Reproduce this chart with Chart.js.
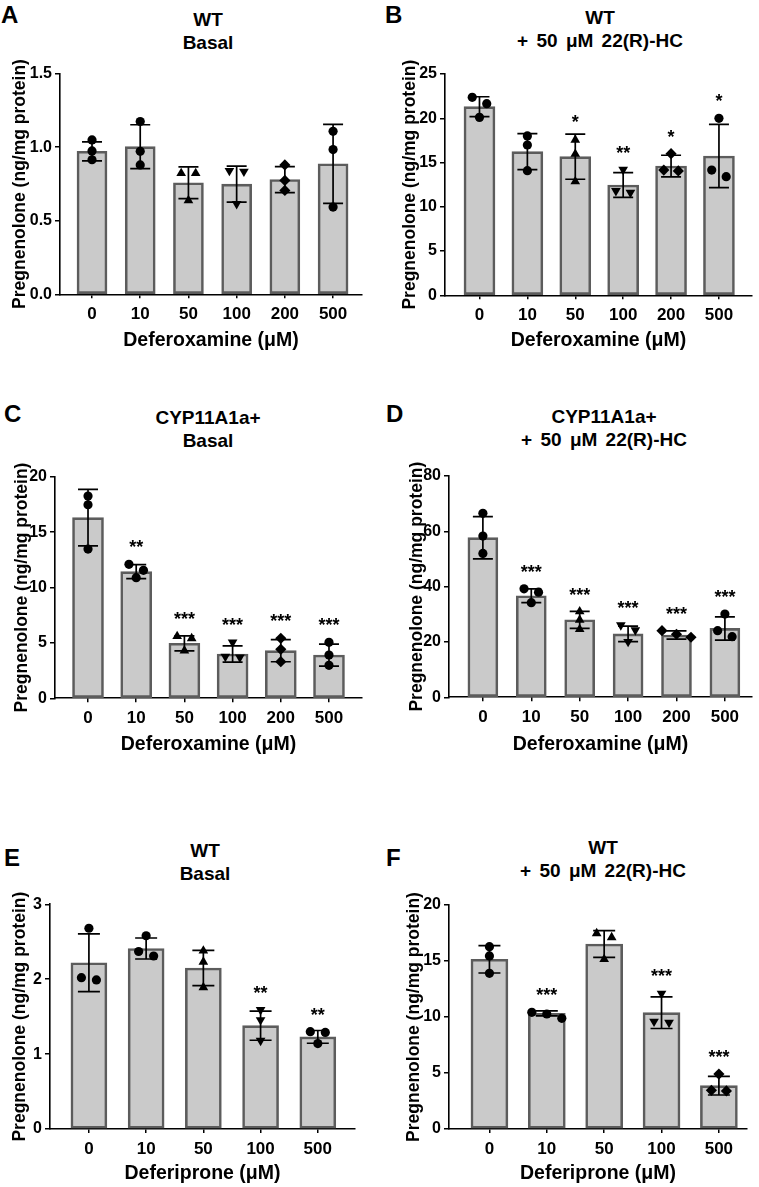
<!DOCTYPE html>
<html><head><meta charset="utf-8">
<script src="https://cdn.jsdelivr.net/npm/chart.js@4.4.1/dist/chart.umd.min.js"></script>
<style>
html,body{margin:0;padding:0;background:#fff;}
body{width:759px;height:1187px;position:relative;overflow:hidden;font-family:"Liberation Sans",Arial,Helvetica,sans-serif;color:#000;}
canvas{position:absolute;}
.letter{position:absolute;font-weight:bold;font-size:24px;line-height:24px;}
.title{position:absolute;font-weight:bold;font-size:19px;line-height:23px;text-align:center;white-space:nowrap;transform:translateX(-50%);}
.ws{word-spacing:3px;}
</style></head><body>
<div class="letter" style="left:1px;top:3px">A</div>
<div class="letter" style="left:385px;top:3px">B</div>
<div class="letter" style="left:4px;top:402px">C</div>
<div class="letter" style="left:386px;top:402px">D</div>
<div class="letter" style="left:4px;top:846px">E</div>
<div class="letter" style="left:386px;top:846px">F</div>
<div class="title" style="left:208px;top:7.5px">WT<br>Basal</div>
<div class="title" style="left:600px;top:6px">WT<br><span class="ws">+ 50 μM 22(R)-HC</span></div>
<div class="title" style="left:208px;top:405.5px">CYP11A1a+<br>Basal</div>
<div class="title" style="left:604px;top:404.5px">CYP11A1a+<br><span class="ws">+ 50 μM 22(R)-HC</span></div>
<div class="title" style="left:205px;top:838.5px">WT<br>Basal</div>
<div class="title" style="left:603px;top:836px">WT<br><span class="ws">+ 50 μM 22(R)-HC</span></div>
<canvas id="cA"></canvas><canvas id="cB"></canvas>
<canvas id="cC"></canvas><canvas id="cD"></canvas>
<canvas id="cE"></canvas><canvas id="cF"></canvas>
<script>
// ---------------- data ----------------
const doseDFO = ['0', '10', '50', '100', '200', '500'];
const doseDFP = ['0', '10', '50', '100', '500'];
const yTitle = 'Pregnenolone (ng/mg protein)';
const xTitleDFO = 'Deferoxamine (μM)';
const xTitleDFP = 'Deferiprone (μM)';

// A: WT basal, deferoxamine
const meanA = [0.972, 1.004, 0.758, 0.749, 0.780, 0.887];
const sdA = [0.065, 0.149, 0.108, 0.122, 0.088, 0.269];
const ptsA = [[1.05, 0.975, 0.915], [1.175, 0.972, 0.88], [0.823, 0.823, 0.638], [0.84, 0.835, 0.615], [0.88, 0.774, 0.706], [1.108, 0.984, 0.593]];
const starsA = ['', '', '', '', '', ''];

// B: WT + 22(R)-HC, deferoxamine
const meanB = [21.31, 16.23, 15.66, 12.46, 14.60, 15.74];
const sdB = [1.12, 2.03, 2.55, 1.40, 1.22, 3.58];
const ptsB = [[22.36, 21.65, 20.1], [18.0, 16.98, 14.08], [17.55, 15.96, 12.85], [14.2, 11.8, 11.6], [16.0, 14.05, 14.15], [19.99, 13.4, 14.15]];
const starsB = ['', '', '*', '**', '*', '*'];

// C: CYP11A1a+ basal, deferoxamine
const meanC = [16.3, 11.43, 4.96, 4.0, 4.3, 3.9];
const sdC = [2.55, 0.63, 0.68, 0.74, 1.0, 0.99];
const ptsC = [[18.26, 17.47, 13.47], [12.09, 11.55, 10.89], [5.6, 5.4, 4.3], [5.05, 3.7, 3.76], [5.41, 4.42, 3.31], [5.05, 3.91, 2.98]];
const starsC = ['', '**', '***', '***', '***', '***'];

// D: CYP11A1a+ + 22(R)-HC, deferoxamine
const meanD = [57.7, 36.7, 28.0, 22.9, 22.5, 24.9];
const sdD = [7.65, 2.5, 3.05, 2.8, 1.5, 4.2];
const ptsD = [[66.5, 58.3, 52.0], [39.2, 38.0, 34.2], [31.0, 28.0, 24.6], [26.1, 24.3, 20.1], [21.7, 24.1, 22.8], [30.1, 21.9, 24.1]];
const starsD = ['', '***', '***', '***', '***', '***'];

// E: WT basal, deferiprone
const meanE = [2.22, 2.41, 2.15, 1.38, 1.23];
const sdE = [0.385, 0.14, 0.235, 0.195, 0.085];
const ptsE = [[2.68, 1.99, 2.02], [2.58, 2.31, 2.37], [2.38, 2.23, 1.89], [1.59, 1.455, 1.18], [1.30, 1.29, 1.14]];
const starsE = ['', '', '', '**', '**'];

// F: WT + 22(R)-HC, deferiprone
const meanF = [15.15, 10.33, 16.52, 10.39, 3.87];
const sdF = [1.22, 0.225, 1.19, 1.415, 0.835];
const ptsF = [[16.28, 15.45, 13.9], [9.88, 10.42, 10.27], [17.47, 17.11, 15.15], [12.1, 9.6, 9.5], [4.9, 3.45, 3.4]];
const starsF = ['', '***', '', '***', '***'];

// y-axis tick settings
const yAxisA = {max: 1.5, step: 0.5, dec: 1};
const yAxisB = {max: 25, step: 5, dec: 0};
const yAxisC = {max: 20, step: 5, dec: 0};
const yAxisD = {max: 80, step: 20, dec: 0};
const yAxisE = {max: 3, step: 1, dec: 0};
const yAxisF = {max: 20, step: 5, dec: 0};

// ---------------- style / layout ----------------
const FAM = "'Liberation Sans', Arial, Helvetica, sans-serif";
const shapesDFO = ['circle', 'circle', 'triangle', 'triangleDown', 'rectRot', 'circle'];
const shapesE = ['circle', 'circle', 'triangle', 'triangleDown', 'circle'];
const shapesF = ['circle', 'circle', 'triangle', 'triangleDown', 'rectRot'];

const Y_TITLE_SIZE = 17.5, X_TITLE_SIZE = 19.5;

function makeChart(id, lay, d) {
  const cv = document.getElementById(id);
  const [cx, cy, cw, ch] = lay.canvas;
  const [aL, aT, aR, aB] = lay.area;
  cv.style.left = cx + 'px'; cv.style.top = cy + 'px';
  cv.style.width = cw + 'px'; cv.style.height = ch + 'px';
  cv.width = cw; cv.height = ch;

  const barData = d.mean.map((m, i) => ({x: i, y: m}));
  const ptData = [];
  d.pts.forEach((arr, i) => arr.forEach(v => ptData.push({x: i, y: v})));
  const shapeOf = c => d.shapes[ptData[c.dataIndex].x];

  const errPlugin = {
    id: 'errbars_' + id,
    afterDatasetDraw(chart, args) {
      if (args.index !== 0) return;
      const ctx = chart.ctx, xs = chart.scales.x, ys = chart.scales.y;
      ctx.save();
      ctx.strokeStyle = '#000'; ctx.lineWidth = 1.7;
      d.mean.forEach((m, i) => {
        const px = xs.getPixelForValue(i);
        const t = ys.getPixelForValue(m + d.sd[i]);
        const b = ys.getPixelForValue(m - d.sd[i]);
        ctx.beginPath();
        ctx.moveTo(px, b); ctx.lineTo(px, t);
        ctx.moveTo(px - lay.cap, t); ctx.lineTo(px + lay.cap, t);
        ctx.moveTo(px - lay.cap, b); ctx.lineTo(px + lay.cap, b);
        ctx.stroke();
      });
      ctx.restore();
    },
    afterDatasetsUpdate(chart) {
      // spread overlapping points horizontally (swarm)
      const meta = chart.getDatasetMeta(1);
      const groups = {};
      meta.data.forEach((el, k) => {
        const gi = ptData[k].x;
        (groups[gi] = groups[gi] || []).push(el);
      });
      Object.values(groups).forEach(els => {
        els.sort((a, b) => a.y - b.y);
        const clusters = [];
        els.forEach(el => {
          const c = clusters[clusters.length - 1];
          if (c && el.y - c[0].y < 7.5) c.push(el); else clusters.push([el]);
        });
        clusters.forEach(c => c.forEach((el, i) => { el.x += (i - (c.length - 1) / 2) * lay.step; }));
      });
    },
    afterDatasetsDraw(chart) {
      const ctx = chart.ctx, xs = chart.scales.x, ys = chart.scales.y;
      ctx.save();
      ctx.fillStyle = '#000';
      ctx.font = 'bold 18px ' + FAM;
      ctx.textAlign = 'center'; ctx.textBaseline = 'alphabetic';
      d.stars.forEach((s, i) => {
        if (!s) return;
        let top = ys.getPixelForValue(d.mean[i] + d.sd[i]);
        d.pts[i].forEach(v => { top = Math.min(top, ys.getPixelForValue(v) - 5); });
        ctx.fillText(s, xs.getPixelForValue(i), top - 6);
      });
      ctx.restore();
    }
  };

  return new Chart(cv, {
    type: 'bar',
    data: {
      datasets: [
        {type: 'bar', data: barData, backgroundColor: '#cacaca', borderColor: '#5c5c5c', borderWidth: 2.6,
         borderSkipped: false, barThickness: lay.barW, order: 2},
        {type: 'scatter', data: ptData, backgroundColor: '#000', borderColor: '#000', borderWidth: 0, order: 1,
         pointStyle: c => (shapeOf(c) === 'triangleDown' ? 'triangle' : shapeOf(c)),
         pointRotation: c => (shapeOf(c) === 'triangleDown' ? 180 : 0),
         pointRadius: c => (shapeOf(c) === 'circle' ? 4.6 : 5.6)}
      ]
    },
    options: {
      responsive: false, animation: false, events: [],
      layout: {autoPadding: false, padding: {left: 0, top: aT - cy, right: cx + cw - aR, bottom: 0}},
      plugins: {legend: {display: false}, tooltip: {enabled: false}, title: {display: false}},
      scales: {
        x: {
          type: 'linear', min: lay.xMin, max: lay.xMax, bounds: 'data', offset: false,
          afterBuildTicks: s => { s.ticks = d.labels.map((_, i) => ({value: i})); },
          ticks: {callback: v => d.labels[v], font: {family: FAM, size: 17, weight: 'bold'}, color: '#000',
                  padding: 6, maxRotation: 0, autoSkip: false},
          grid: {display: true, offset: false, drawOnChartArea: false, drawTicks: true, tickLength: 4, color: '#000', lineWidth: 1.5},
          border: {display: true, color: '#000', width: 1.6},
          title: {display: true, text: d.xTitle, font: {family: FAM, size: X_TITLE_SIZE, weight: 'bold'}, color: '#000', padding: 0},
          afterFit: s => { s.height = cy + ch - aB; s.paddingLeft = 0; s.paddingRight = 0; }
        },
        y: {
          type: 'linear', min: 0, max: d.yAxis.max, bounds: 'data',
          ticks: {stepSize: d.yAxis.step, callback: v => Number(v).toFixed(d.yAxis.dec),
                  font: {family: FAM, size: 16, weight: 'bold'}, color: '#000', padding: 3},
          grid: {display: true, drawOnChartArea: false, drawTicks: true, tickLength: 5, color: '#000', lineWidth: 1.5},
          border: {display: true, color: '#000', width: 1.6},
          title: {display: true, text: yTitle, font: {family: FAM, size: Y_TITLE_SIZE, weight: 'bold'}, color: '#000',
                  padding: {top: lay.yTitleX - cx - Y_TITLE_SIZE * 0.6, bottom: 0}},
          afterFit: s => { s.width = aL - cx; s.paddingTop = 0; s.paddingBottom = 0; }
        }
      }
    },
    plugins: [errPlugin]
  });
}

makeChart('cA', {canvas: [0, 60, 380, 292], area: [60, 73.7, 362, 294.3], xMin: -0.664, xMax: 5.60, yTitleX: 20, barW: 30, cap: 10, step: 14.5},
  {labels: doseDFO, xTitle: xTitleDFO, mean: meanA, sd: sdA, pts: ptsA, stars: starsA, yAxis: yAxisA, shapes: shapesDFO});
makeChart('cB', {canvas: [380, 60, 379, 292], area: [445, 74, 752, 295.3], xMin: -0.72, xMax: 5.69, yTitleX: 410, barW: 31, cap: 10, step: 14.5},
  {labels: doseDFO, xTitle: xTitleDFO, mean: meanB, sd: sdB, pts: ptsB, stars: starsB, yAxis: yAxisB, shapes: shapesDFO});
makeChart('cC', {canvas: [0, 450, 380, 306], area: [55, 476.7, 362, 698.3], xMin: -0.685, xMax: 5.685, yTitleX: 21.7, barW: 31, cap: 10, step: 14.5},
  {labels: doseDFO, xTitle: xTitleDFO, mean: meanC, sd: sdC, pts: ptsC, stars: starsC, yAxis: yAxisC, shapes: shapesDFO});
makeChart('cD', {canvas: [380, 450, 379, 306], area: [449, 476, 752, 697.3], xMin: -0.70, xMax: 5.56, yTitleX: 416.7, barW: 30, cap: 10, step: 14.5},
  {labels: doseDFO, xTitle: xTitleDFO, mean: meanD, sd: sdD, pts: ptsD, stars: starsD, yAxis: yAxisD, shapes: shapesDFO});
makeChart('cE', {canvas: [0, 880, 380, 305], area: [50, 904.3, 355, 1129], xMin: -0.68, xMax: 4.65, yTitleX: 20, barW: 36, cap: 11, step: 15},
  {labels: doseDFP, xTitle: xTitleDFP, mean: meanE, sd: sdE, pts: ptsE, stars: starsE, yAxis: yAxisE, shapes: shapesE});
makeChart('cF', {canvas: [380, 880, 379, 305], area: [449, 905, 747, 1129], xMin: -0.705, xMax: 4.49, yTitleX: 414, barW: 37, cap: 11, step: 15},
  {labels: doseDFP, xTitle: xTitleDFP, mean: meanF, sd: sdF, pts: ptsF, stars: starsF, yAxis: yAxisF, shapes: shapesF});
</script>
</body></html>
